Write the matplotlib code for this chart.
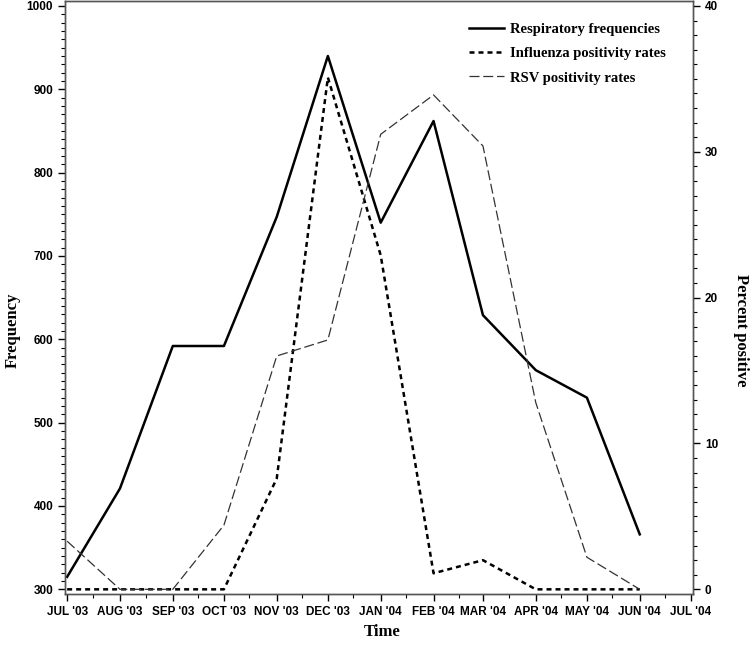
import numpy as np
import pandas as pd
import matplotlib
matplotlib.use("Agg")
import matplotlib.pyplot as plt
import matplotlib.dates as mdates
from matplotlib.ticker import MultipleLocator, FuncFormatter

# monthly data, Jul 2003 - Jun 2004
months = pd.to_datetime(["2003-07-01", "2003-08-01", "2003-09-01", "2003-10-01",
                         "2003-11-01", "2003-12-01", "2004-01-01", "2004-02-01",
                         "2004-03-01", "2004-04-01", "2004-05-01", "2004-06-01"])
resp_freq = [315, 421, 592, 592, 747, 940, 740, 862, 629, 563, 530, 366]
flu_pos = [0, 0, 0, 0, 7.6, 35.1, 22.9, 1.1, 2.0, 0, 0, 0]
rsv_pos = [3.3, 0, 0, 4.4, 16.0, 17.1, 31.2, 33.9, 30.4, 12.8, 2.2, 0]

serif = ["Liberation Serif", "DejaVu Serif"]
sans = ["Liberation Sans Narrow", "Liberation Sans", "DejaVu Sans"]

fig = plt.figure(figsize=(7.53, 6.46), dpi=100)
ax = fig.add_axes([65 / 753, 52 / 646, 628 / 753, 593 / 646])
ax2 = ax.twinx()

l1, = ax.plot(months, resp_freq, color="black", lw=1.8, ls="-")
l2, = ax2.plot(months, flu_pos, color="black", lw=1.8, ls=(0, (2, 1.6)))
l3, = ax2.plot(months, rsv_pos, color="#333333", lw=0.9, ls=(0, (8, 3)))

ax.set_ylim(294.4, 1006)
ax2.set_ylim(-0.32, 40.34)
ax.set_xlim(pd.Timestamp("2003-06-29 18:00"), pd.Timestamp("2004-07-02 06:00"))

ax.yaxis.set_major_locator(MultipleLocator(100))
ax.yaxis.set_minor_locator(MultipleLocator(10))
ax2.yaxis.set_major_locator(MultipleLocator(10))
ax2.yaxis.set_minor_locator(MultipleLocator(1))

ax.xaxis.set_major_locator(mdates.MonthLocator())
ax.xaxis.set_minor_locator(mdates.MonthLocator(bymonthday=16))
ax.xaxis.set_major_formatter(FuncFormatter(
    lambda v, p: mdates.num2date(v).strftime("%b '%y").upper()))

for a in (ax, ax2):
    a.tick_params(which="major", length=5, width=1, direction="out")
    a.tick_params(which="minor", length=3, width=0.8, direction="out")
    for lab in a.get_xticklabels() + a.get_yticklabels():
        lab.set_family(sans)
        lab.set_fontweight("bold")
        lab.set_fontsize(8.5)
    for s in a.spines.values():
        s.set_color("#555555")
        s.set_linewidth(1)

# axis titles placed in figure pixels
fig.text(13 / 753, 1 - 330 / 646, "Frequency", family=serif, fontweight="bold",
         fontsize=12, rotation=90, ha="center", va="center")
fig.text(741 / 753, 1 - 330 / 646, "Percent positive", family=serif, fontweight="bold",
         fontsize=12, rotation=270, ha="center", va="center")
fig.text(382 / 753, 1 - 632 / 646, "Time", family=serif, fontweight="bold",
         fontsize=12, ha="center", va="center")

leg = ax.legend([l1, l2, l3],
                ["Respiratory frequencies", "Influenza positivity rates", "RSV positivity rates"],
                loc="upper right", bbox_to_anchor=(0.977, 0.985), frameon=False,
                prop={"family": serif, "weight": "bold", "size": 10.5},
                handlelength=2.4, handletextpad=0.35, labelspacing=0.75)

fig.savefig("out.png", dpi=100)
